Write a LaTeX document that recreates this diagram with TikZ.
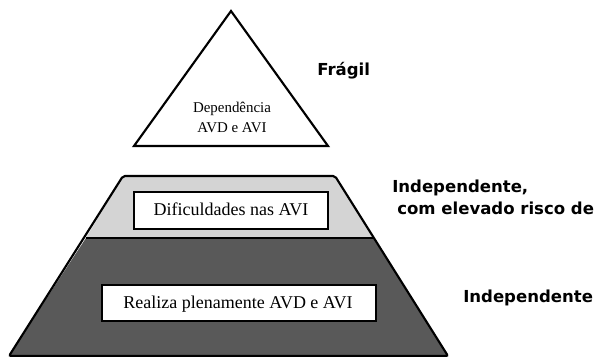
\documentclass[tikz,border=0pt]{standalone}
\usepackage{fontspec}
\setmainfont{Liberation Serif}
\newfontfamily\lblfont{DejaVu Sans}
\definecolor{lightband}{HTML}{D4D4D4}
\definecolor{darkband}{HTML}{595959}
\begin{document}
\begin{tikzpicture}[x=0.75pt,y=-0.75pt,
  outline/.style={draw=black,line width=1.6pt,line join=miter},
  levelbox/.style={draw=black,fill=white,line width=0.8pt,inner sep=0pt},
  boxtext/.style={anchor=base,inner sep=0pt,font=\fontsize{13.5}{15}\selectfont},
  sidelabel/.style={font=\lblfont\bfseries\fontsize{12.4}{14}\selectfont,inner sep=0pt,anchor=base west},
  tritext/.style={font=\fontsize{11.2}{15}\selectfont,inner sep=0pt,anchor=base}]
\useasboundingbox (0,0) rectangle (600,357);
% triangle
\draw[outline,fill=white] (231,11) -- (328,146) -- (134,146) -- cycle;
\node[tritext] (t1) at (232,112) {Dependência};
\node[tritext] (t2) at (232,132) {AVD e AVI};
% trapezoid
\fill[lightband] (123,176) -- (335,176) -- (373,238) -- (86,238) -- cycle;
\fill[darkband] (86,238) -- (373,238) -- (448,356) -- (9,356) -- cycle;
\draw[outline,line width=1.2pt] (86,238) -- (373,238);
\draw[outline,rounded corners=1.5pt] (9,356) -- (123,176) -- (335,176) -- (448,356) -- cycle;
% boxes
\node[levelbox,minimum width=145.5pt,minimum height=27.75pt] (b1) at (231,210.5) {};
\node[boxtext] (b1t) at (231,215) {Dificuldades nas AVI};
\node[levelbox,minimum width=205.5pt,minimum height=27pt] (b2) at (239,303) {};
\node[boxtext] (b2t) at (238,308) {Realiza plenamente AVD e AVI};
% labels
\node[sidelabel] (l1) at (317,75) {Frágil};
\node[sidelabel] (l2) at (392,192) {Independente,};
\node[sidelabel] (l3) at (397,214) {com elevado risco de};
\node[sidelabel] (l4) at (463,302) {Independente};
\end{tikzpicture}
\end{document}
